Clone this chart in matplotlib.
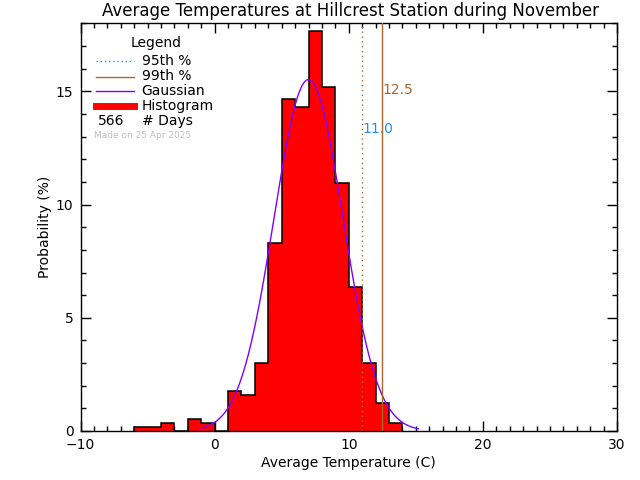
import numpy as np
import matplotlib
matplotlib.use("Agg")
import matplotlib.pyplot as plt
from matplotlib.ticker import MultipleLocator

# Data
bin_edges = list(range(-6, 15))  # -6 .. 14
day_counts = [1, 1, 2, 0, 3, 2, 0, 10, 9, 17, 47, 83, 81, 100, 86, 62, 36, 17, 7, 2]
n_days = 566
probability = [c / n_days * 100 for c in day_counts]
gauss_mean = 7.0
gauss_sigma = 2.57
gauss_range = (-1.0, 15.2)
p95 = 11.0
p99 = 12.5
title = "Average Temperatures at Hillcrest Station during November"
xlabel = "Average Temperature (C)"
ylabel = "Probability (%)"

W, H = 640, 480
fig = plt.figure(figsize=(6.4, 4.8), dpi=100)
ax = fig.add_axes([80.5 / W, 1 - 431 / H, (617 - 80.5) / W, (431 - 23) / H])

ax.stairs(probability, bin_edges, fill=True, color="#ff0000", zorder=2)
ax.stairs(probability, bin_edges, color="black", linewidth=1.1, zorder=3)

gx = np.linspace(gauss_range[0], gauss_range[1], 400)
gy = 100 / (gauss_sigma * np.sqrt(2 * np.pi)) * np.exp(-0.5 * ((gx - gauss_mean) / gauss_sigma) ** 2)
ax.plot(gx, gy, color="#8000ff", linewidth=1.0, zorder=4)

brown = "#a8672e"
blue = "#1e90ff"
ax.axvline(p95, color=brown, linestyle=(0, (1, 2.5)), linewidth=1.0, zorder=5)
ax.axvline(p99, color=brown, linestyle="-", linewidth=1.0, zorder=5)
ax.text(p99, 15.05, f"{p99:.1f}", color=brown, fontsize=10, ha="left", va="center")
ax.text(p95, 13.34, f"{p95:.1f}", color=blue, fontsize=10, ha="left", va="center")

ax.set_xlim(-10, 30)
ax.set_ylim(0, 18.02)
ax.xaxis.set_major_locator(MultipleLocator(10))
ax.xaxis.set_minor_locator(MultipleLocator(1))
ax.yaxis.set_major_locator(MultipleLocator(5))
ax.yaxis.set_minor_locator(MultipleLocator(1))
ax.tick_params(which="both", direction="in", top=True, right=True, width=1)
ax.tick_params(which="major", length=7, labelsize=10, pad=5)
ax.tick_params(which="minor", length=3.5)
for s in ax.spines.values():
    s.set_linewidth(1.0)

ax.set_xlabel(xlabel, fontsize=10, labelpad=3)
ax.set_ylabel(ylabel, fontsize=10, labelpad=3)
fig.text(0.5 * (100 + 600) / W, 1 - 11 / H, title, fontsize=12, ha="center", va="center")

# Legend (drawn manually)
def fy(y):
    return 1 - y / H

fig.text(156 / W, fy(43), "Legend", fontsize=10, ha="center", va="center")
entries = [
    ("95th %", dict(color=blue, linestyle=(0, (1, 2)), linewidth=1.0)),
    ("99th %", dict(color=brown, linestyle="-", linewidth=1.0)),
    ("Gaussian", dict(color="#8000ff", linestyle="-", linewidth=1.0)),
    ("Histogram", dict(color="#ff0000", linestyle="-", linewidth=5)),
]
ys = [61, 76.5, 91, 106]
for (lab, kw), y in zip(entries, ys):
    fig.add_artist(plt.Line2D([96 / W, 134 / W], [fy(y), fy(y)], transform=fig.transFigure, **kw))
    fig.text(141.5 / W, fy(y), lab, fontsize=10, ha="left", va="center")
fig.text(111.5 / W, fy(121), str(n_days), fontsize=10, ha="center", va="center")
fig.text(141.5 / W, fy(121), "# Days", fontsize=10, ha="left", va="center")
fig.text(94 / W, fy(135), "Made on 25 Apr 2025", fontsize=6.5, color="#c0c0c0", ha="left", va="center")

fig.savefig("out.png", dpi=100)
